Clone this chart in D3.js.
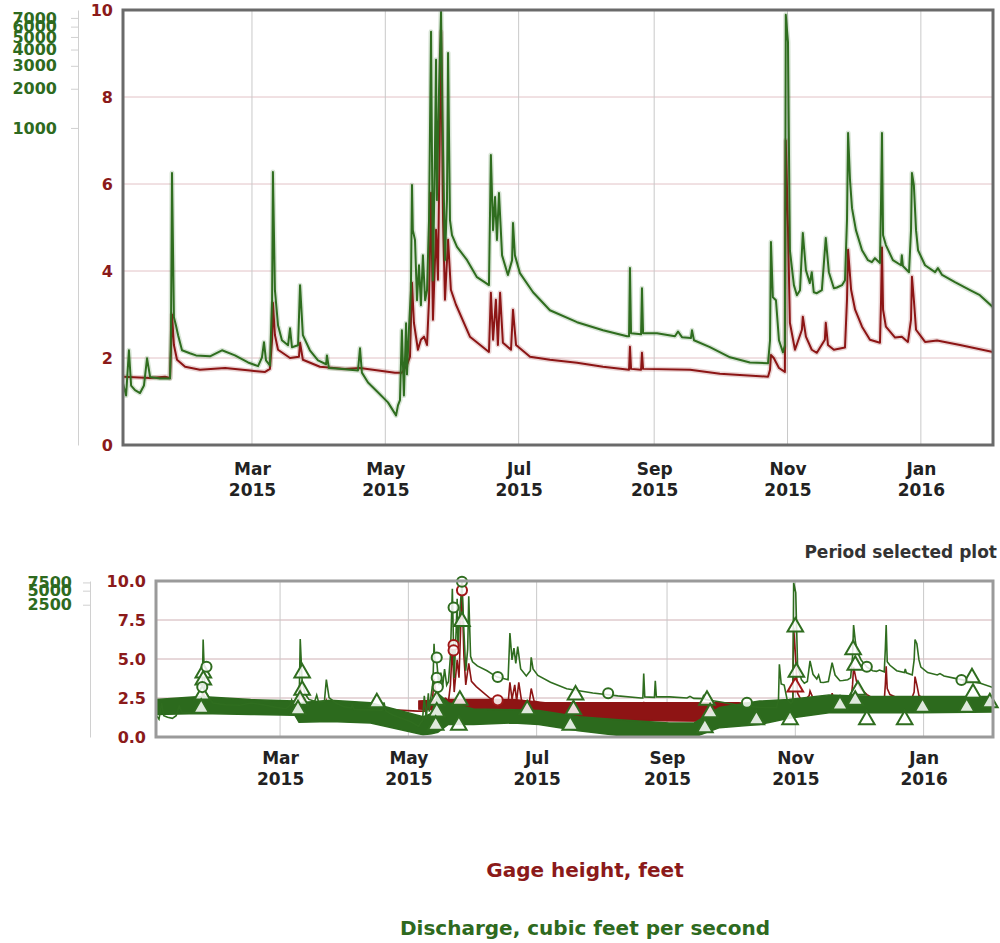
<!DOCTYPE html>
<html>
<head>
<meta charset="utf-8">
<script src="https://cdn.jsdelivr.net/npm/d3@7"></script>
<style>
  body { margin: 0; background: #fff; }
  svg text { font-family: "DejaVu Sans", Verdana, sans-serif; font-weight: bold; }
</style>
</head>
<body>
<svg id="chart" width="1000" height="943"></svg>
<script>
// ---- Data ------------------------------------------------------------
// Gage height, feet (instantaneous readings)
const gageHeight = [
  ["2015-01-01 00", 1.57], ["2015-01-13 10", 1.54], ["2015-01-20 05", 1.57], ["2015-01-22 12", 1.54],
  ["2015-01-22 23", 2.19], ["2015-01-23 10", 3.0], ["2015-01-24 07", 2.3], ["2015-01-25 17", 1.96],
  ["2015-01-29 10", 1.80], ["2015-02-05 05", 1.73], ["2015-02-16 17", 1.77], ["2015-02-28 02", 1.71],
  ["2015-03-07 00", 1.68], ["2015-03-09 05", 1.75], ["2015-03-10 05", 2.42], ["2015-03-10 14", 3.27],
  ["2015-03-11 12", 2.53], ["2015-03-12 22", 2.19], ["2015-03-18 10", 2.0], ["2015-03-22 12", 2.03],
  ["2015-03-23 00", 2.35], ["2015-03-24 07", 1.96], ["2015-04-01 02", 1.80], ["2015-04-12 14", 1.75],
  ["2015-04-19 10", 1.77], ["2015-05-05 10", 1.66], ["2015-05-08 14", 1.66], ["2015-05-10 22", 1.84],
  ["2015-05-12 07", 2.03], ["2015-05-13 05", 3.73], ["2015-05-14 02", 2.81], ["2015-05-15 22", 2.19],
  ["2015-05-17 07", 2.42], ["2015-05-18 17", 2.49], ["2015-05-20 02", 2.30], ["2015-05-21 00", 3.34],
  ["2015-05-21 22", 5.8], ["2015-05-22 19", 2.88], ["2015-05-24 05", 4.95], ["2015-05-25 02", 3.8],
  ["2015-05-26 12", 9.5], ["2015-05-27 10", 5.18], ["2015-05-28 07", 3.34], ["2015-05-29 17", 4.72],
  ["2015-05-31 00", 3.57], ["2015-06-02 07", 3.23], ["2015-06-08 17", 2.49], ["2015-06-17 10", 2.14],
  ["2015-06-18 07", 3.5], ["2015-06-19 07", 2.42], ["2015-06-20 14", 3.34], ["2015-06-21 12", 2.3],
  ["2015-06-22 12", 3.5], ["2015-06-23 19", 2.35], ["2015-06-27 12", 2.19], ["2015-06-28 10", 3.11],
  ["2015-06-29 19", 2.3], ["2015-07-06 05", 2.03], ["2015-07-15 07", 1.96], ["2015-07-27 17", 1.89],
  ["2015-08-08 14", 1.80], ["2015-08-20 12", 1.73], ["2015-08-20 22", 2.26], ["2015-08-21 10", 1.75],
  ["2015-08-26 00", 1.73], ["2015-08-26 10", 2.12], ["2015-08-26 22", 1.75], ["2015-09-17 10", 1.73],
  ["2015-10-01 02", 1.64], ["2015-10-23 02", 1.57], ["2015-10-24 00", 1.73], ["2015-10-24 10", 2.07],
  ["2015-10-25 17", 2.0], ["2015-10-28 02", 1.77], ["2015-10-30 19", 1.68], ["2015-10-31 05", 7.0],
  ["2015-11-01 05", 5.0], ["2015-11-02 02", 2.81], ["2015-11-04 10", 2.19], ["2015-11-07 14", 2.65],
  ["2015-11-08 00", 2.95], ["2015-11-09 10", 2.49], ["2015-11-12 02", 2.19], ["2015-11-14 10", 2.12],
  ["2015-11-18 02", 2.42], ["2015-11-18 12", 2.81], ["2015-11-19 12", 2.30], ["2015-11-22 05", 2.19],
  ["2015-11-27 07", 2.24], ["2015-11-28 05", 3.34], ["2015-11-28 17", 4.49], ["2015-11-30 02", 3.57],
  ["2015-12-01 22", 3.11], ["2015-12-05 02", 2.72], ["2015-12-08 17", 2.42], ["2015-12-13 07", 2.35],
  ["2015-12-13 19", 3.34], ["2015-12-14 05", 4.54], ["2015-12-14 17", 3.11], ["2015-12-16 00", 2.72],
  ["2015-12-20 05", 2.47], ["2015-12-23 07", 2.49], ["2015-12-26 02", 2.37], ["2015-12-27 12", 2.88],
  ["2015-12-27 22", 3.87], ["2015-12-28 19", 3.34], ["2015-12-29 19", 2.65], ["2016-01-02 22", 2.37],
  ["2016-01-08 10", 2.40], ["2016-01-18 22", 2.30], ["2016-02-03 00", 2.14]
];

// Discharge, cubic feet per second (instantaneous readings)
const discharge = [
  ["2015-01-01 00", 10.9], ["2015-01-02 10", 8.8], ["2015-01-03 17", 19.6], ["2015-01-04 17", 10.5],
  ["2015-01-06 12", 9.7], ["2015-01-08 19", 9.2], ["2015-01-10 14", 10.5], ["2015-01-12 00", 17.0],
  ["2015-01-13 10", 12.2], ["2015-01-17 22", 11.9], ["2015-01-22 12", 11.9], ["2015-01-22 23", 27.9],
  ["2015-01-23 10", 451], ["2015-01-24 07", 35.2], ["2015-01-25 05", 30.5], ["2015-01-26 05", 25.6],
  ["2015-01-28 00", 19.6], ["2015-01-31 14", 18.6], ["2015-02-03 10", 17.9], ["2015-02-09 19", 17.6],
  ["2015-02-15 07", 19.6], ["2015-02-21 05", 17.9], ["2015-02-27 05", 15.8], ["2015-03-03 19", 14.8],
  ["2015-03-05 14", 17.3], ["2015-03-06 12", 22.6], ["2015-03-07 10", 16.4], ["2015-03-09 05", 15.0],
  ["2015-03-10 05", 47.5], ["2015-03-10 14", 459], ["2015-03-11 12", 56.7], ["2015-03-12 22", 30.5],
  ["2015-03-14 17", 23.4], ["2015-03-17 12", 21.4], ["2015-03-18 10", 28.9], ["2015-03-19 07", 20.7],
  ["2015-03-22 02", 21.4], ["2015-03-23 00", 62], ["2015-03-24 07", 25.6], ["2015-03-27 12", 19.6],
  ["2015-03-31 05", 16.4], ["2015-04-03 22", 15.3], ["2015-04-04 07", 17.9], ["2015-04-05 05", 14.3],
  ["2015-04-12 14", 14.0], ["2015-04-18 12", 13.7], ["2015-04-19 10", 20.3], ["2015-04-20 07", 13.2],
  ["2015-04-23 02", 11.1], ["2015-04-27 17", 9.3], ["2015-05-02 05", 7.8], ["2015-05-05 22", 6.2],
  ["2015-05-06 19", 7.4], ["2015-05-07 17", 8.1], ["2015-05-08 14", 27.9], ["2015-05-09 12", 8.8],
  ["2015-05-10 12", 31.6], ["2015-05-10 22", 12.8], ["2015-05-11 19", 27.9], ["2015-05-12 17", 56.7],
  ["2015-05-13 05", 364], ["2015-05-13 14", 164], ["2015-05-14 14", 138], ["2015-05-15 12", 47.5],
  ["2015-05-16 10", 88.2], ["2015-05-17 07", 43.5], ["2015-05-18 05", 105], ["2015-05-19 05", 47.5],
  ["2015-05-20 02", 56.7], ["2015-05-21 00", 196], ["2015-05-21 22", 5480], ["2015-05-22 19", 67.7],
  ["2015-05-23 17", 677], ["2015-05-24 05", 3340], ["2015-05-24 14", 279], ["2015-05-25 14", 1960],
  ["2015-05-26 12", 7800], ["2015-05-27 10", 677], ["2015-05-28 07", 96.5], ["2015-05-29 05", 279],
  ["2015-05-29 17", 3770], ["2015-05-30 14", 196], ["2015-05-31 12", 150], ["2015-06-02 19", 122],
  ["2015-06-07 10", 96.5], ["2015-06-11 22", 71.4], ["2015-06-16 02", 64.3], ["2015-06-17 10", 62],
  ["2015-06-18 07", 620], ["2015-06-19 07", 164], ["2015-06-20 05", 295], ["2015-06-21 02", 138],
  ["2015-06-22 00", 316], ["2015-06-23 10", 105], ["2015-06-26 02", 74.3], ["2015-06-28 00", 96.5],
  ["2015-06-28 10", 186], ["2015-06-29 07", 105], ["2015-07-01 14", 76.7], ["2015-07-07 14", 54.7],
  ["2015-07-15 07", 39.8], ["2015-07-27 17", 32.2], ["2015-08-08 14", 27.9], ["2015-08-19 14", 25.1],
  ["2015-08-20 12", 25.1], ["2015-08-20 22", 83.8], ["2015-08-21 10", 26.5], ["2015-08-26 00", 26.0],
  ["2015-08-26 10", 58.7], ["2015-08-26 22", 26.5], ["2015-09-02 07", 26.5], ["2015-09-10 12", 25.1],
  ["2015-09-11 22", 27.3], ["2015-09-13 17", 24.7], ["2015-09-17 19", 24.3], ["2015-09-18 07", 27.9],
  ["2015-09-19 05", 23.4], ["2015-09-26 12", 20.7], ["2015-10-05 17", 17.3], ["2015-10-14 19", 15.8],
  ["2015-10-23 02", 15.6], ["2015-10-24 00", 23.4], ["2015-10-24 10", 133], ["2015-10-25 07", 50.1],
  ["2015-10-26 17", 47.5], ["2015-10-28 02", 23.4], ["2015-10-29 22", 18.9], ["2015-10-30 19", 21.4],
  ["2015-10-31 05", 7390], ["2015-11-01 05", 4560], ["2015-11-02 02", 115], ["2015-11-03 22", 62],
  ["2015-11-05 07", 51.9], ["2015-11-06 17", 56.7], ["2015-11-08 00", 156], ["2015-11-09 10", 80.9],
  ["2015-11-11 05", 64.3], ["2015-11-12 02", 78], ["2015-11-13 00", 54.7], ["2015-11-14 10", 53.8],
  ["2015-11-16 17", 56.7], ["2015-11-18 12", 143], ["2015-11-19 22", 78], ["2015-11-22 05", 58.7],
  ["2015-11-23 14", 59.5], ["2015-11-25 22", 62], ["2015-11-27 07", 67.7], ["2015-11-28 05", 196],
  ["2015-11-28 17", 915], ["2015-11-29 14", 398], ["2015-11-30 12", 242], ["2015-12-02 07", 164],
  ["2015-12-05 02", 115], ["2015-12-07 19", 96.5], ["2015-12-09 14", 93.2], ["2015-12-11 00", 99.9],
  ["2015-12-13 07", 91.6], ["2015-12-13 19", 279], ["2015-12-14 05", 915], ["2015-12-14 17", 150],
  ["2015-12-16 00", 126], ["2015-12-19 05", 96.5], ["2015-12-22 22", 88.2], ["2015-12-23 07", 105],
  ["2015-12-23 19", 86.9], ["2015-12-26 14", 78], ["2015-12-27 12", 164], ["2015-12-27 22", 451],
  ["2015-12-28 19", 364], ["2015-12-29 19", 164], ["2015-12-30 17", 115], ["2016-01-02 22", 88.2],
  ["2016-01-07 12", 78], ["2016-01-08 19", 83.8], ["2016-01-10 17", 74.3], ["2016-01-16 14", 65.3],
  ["2016-01-23 12", 56.7], ["2016-01-28 00", 51.9], ["2016-02-03 00", 42]
];

// Overview plot: daily envelopes and sample markers (on the feet axis)
const dischargeEnvelope = [
  ["2015-01-01 00", 1.45, 2.4], ["2015-01-22 00", 1.5, 2.6], ["2015-02-15 00", 1.45, 2.4],
  ["2015-03-08 00", 1.4, 2.3], ["2015-03-10 00", 0.95, 2.2], ["2015-03-25 00", 1.0, 2.35],
  ["2015-04-13 00", 0.9, 2.2], ["2015-05-08 00", 0.15, 1.3], ["2015-05-12 00", 0.2, 1.5],
  ["2015-05-15 00", 0.3, 2.8], ["2015-05-20 00", 0.8, 2.2], ["2015-06-01 00", 0.8, 1.8],
  ["2015-06-20 00", 0.9, 1.75], ["2015-07-02 00", 0.8, 1.7], ["2015-07-21 00", 0.4, 1.3],
  ["2015-08-09 00", 0.1, 1.1], ["2015-09-02 00", 0.0, 0.9], ["2015-09-14 00", 0.0, 0.9],
  ["2015-09-26 00", 0.6, 1.9], ["2015-10-15 00", 0.8, 2.3], ["2015-10-29 00", 1.2, 2.4],
  ["2015-11-17 00", 1.55, 2.7], ["2015-12-06 00", 1.55, 2.6], ["2015-12-30 00", 1.55, 2.6],
  ["2016-02-03 00", 1.6, 2.6]
];
const gageEnvelope = [
  ["2015-05-06 00", 1.8, 2.3], ["2015-05-20 00", 1.7, 2.4], ["2015-06-20 00", 1.7, 2.4],
  ["2015-07-05 00", 1.1, 2.2], ["2015-10-05 00", 1.0, 2.2], ["2015-10-15 00", 1.5, 2.1],
  ["2015-10-20 00", null, null], ["2015-11-21 00", 1.6, 2.6], ["2015-12-04 00", 1.6, 2.6]
];
const dischargeCircles = [
  ["2015-01-25 00", 4.5], ["2015-01-23 00", 3.2], ["2015-05-26 12", 9.95], ["2015-05-22 12", 8.3],
  ["2015-05-14 12", 5.1], ["2015-05-14 12", 3.8], ["2015-05-15 00", 3.2], ["2015-06-12 12", 3.85],
  ["2015-08-04 00", 2.8], ["2015-10-09 00", 2.2], ["2015-12-05 00", 4.5], ["2016-01-19 00", 3.65]
];
const dischargeTriangles = [
  ["2015-01-23 12", 4.1], ["2015-01-23 12", 3.65], ["2015-01-23 00", 2.7], ["2015-01-22 12", 1.85],
  ["2015-03-11 12", 4.1], ["2015-03-11 12", 3.0], ["2015-03-10 12", 2.35], ["2015-03-09 12", 1.75],
  ["2015-04-16 00", 2.2], ["2015-05-26 12", 7.4], ["2015-05-14 12", 2.35], ["2015-05-14 12", 1.6],
  ["2015-05-14 00", 0.75], ["2015-05-25 12", 2.35], ["2015-05-25 00", 0.75], ["2015-06-26 12", 1.75],
  ["2015-07-19 12", 2.7], ["2015-07-18 12", 1.75], ["2015-07-17 00", 0.75], ["2015-09-20 00", 2.35],
  ["2015-09-21 12", 1.55], ["2015-09-19 00", 0.6], ["2015-10-13 12", 1.1], ["2015-11-01 00", 7.05],
  ["2015-11-01 12", 4.15], ["2015-10-29 12", 1.1], ["2015-11-22 06", 2.05], ["2015-11-28 12", 5.6],
  ["2015-11-29 12", 4.6], ["2015-11-30 18", 3.0], ["2015-11-29 12", 2.35], ["2015-12-05 00", 1.1],
  ["2015-12-23 00", 1.1], ["2015-12-31 12", 1.9], ["2016-01-21 12", 1.9], ["2016-01-24 00", 3.8],
  ["2016-01-24 12", 2.8], ["2016-02-01 12", 2.2]
];
const gageCircles = [
  ["2015-05-26 12", 9.4], ["2015-05-22 12", 5.9], ["2015-05-22 12", 5.55], ["2015-06-12 12", 2.35]
];
const gageTriangles = [["2015-11-01 00", 3.2]];

// Axis ticks
const monthTicks = ["2015-03-01", "2015-05-01", "2015-07-01", "2015-09-01", "2015-11-01", "2016-01-01"];
const gageTicks = [0, 2, 4, 6, 8, 10];
const flowTicks = [1000, 2000, 3000, 4000, 5000, 6000, 7000];
const overviewGageTicks = [0, 2.5, 5, 7.5, 10];
const overviewFlowTicks = [2500, 5000, 7500];

// ---- Setup -----------------------------------------------------------
const RED = "#8c1515", GREEN = "#2f6d1f";
const LABEL_RED = "#8b1a1a", LABEL_GREEN = "#2e6a1e";
const parseTime = d3.timeParse("%Y-%m-%d %H");
const parseDay = d3.timeParse("%Y-%m-%d");
const timeDomain = [parseDay("2015-01-01"), parseDay("2016-02-03")];
const flowDomain = [3.67, 8050];
const gageDomain = [0, 10];
const monthDates = monthTicks.map(parseDay);

const svg = d3.select("#chart");

function drawPanel(p) {
  const x = d3.scaleTime().domain(timeDomain).range([p.left, p.right]);
  const yG = d3.scaleLinear().domain(gageDomain).range([p.bottom, p.top]);
  const yQ = d3.scaleLog().domain(flowDomain).range([p.bottom, p.top]);

  const clipId = "clip-" + p.name;
  svg.append("clipPath").attr("id", clipId)
    .append("rect").attr("x", p.left).attr("y", p.top - 2)
    .attr("width", p.right - p.left).attr("height", p.bottom - p.top + 2);

  // grid
  const grid = svg.append("g");
  grid.selectAll("line.h").data(p.gageTicks.filter(v => v > 0 && v < 10)).join("line")
    .attr("x1", p.left).attr("x2", p.right)
    .attr("y1", d => yG(d)).attr("y2", d => yG(d))
    .attr("stroke", p.hGrid).attr("stroke-width", 1);
  grid.selectAll("line.v").data(monthDates).join("line")
    .attr("x1", d => x(d)).attr("x2", d => x(d))
    .attr("y1", p.top).attr("y2", p.bottom)
    .attr("stroke", "#c9c9c9").attr("stroke-width", 1);

  return { x, yG, yQ, clipId };
}

function styleAxis(g, color, size) {
  g.attr("font-family", null).attr("font-size", null);
  g.selectAll("text").attr("fill", color).style("font-size", size + "px");
}

function monthAxis(x, y0, dy1, dy2) {
  const g = svg.append("g").attr("transform", `translate(0,${y0})`)
    .call(d3.axisBottom(x).tickValues(monthDates).tickSize(0));
  g.select(".domain").remove();
  styleAxis(g, "#222", 17);
  g.selectAll(".tick text").each(function (d) {
    const t = d3.select(this).text(null).attr("y", null).attr("dy", null);
    t.append("tspan").attr("x", 0).attr("y", dy1).text(d3.timeFormat("%b")(d));
    t.append("tspan").attr("x", 0).attr("y", dy2).text(d3.timeFormat("%Y")(d));
  });
}

function seriesPath(g, data, x, y, color, width, clipId) {
  const line = d3.line().x(d => x(parseTime(d[0]))).y(d => y(d[1]));
  g.append("path").datum(data).attr("d", line)
    .attr("fill", "none").attr("stroke", color).attr("stroke-opacity", 0.18)
    .attr("stroke-width", width + 3).attr("stroke-linejoin", "round")
    .attr("clip-path", `url(#${clipId})`);
  g.append("path").datum(data).attr("d", line)
    .attr("fill", "none").attr("stroke", color)
    .attr("stroke-width", width).attr("stroke-linejoin", "round")
    .attr("clip-path", `url(#${clipId})`);
}

// ---- Main plot -------------------------------------------------------
const main = { name: "main", left: 123, right: 993, top: 10, bottom: 445,
  gageTicks: gageTicks, hGrid: "#e2c2c6" };
const M = drawPanel(main);

const mainLines = svg.append("g");
seriesPath(mainLines, gageHeight, M.x, M.yG, RED, 2, M.clipId);
seriesPath(mainLines, discharge, M.x, M.yQ, GREEN, 2, M.clipId);

svg.append("rect").attr("x", main.left).attr("y", main.top)
  .attr("width", main.right - main.left).attr("height", main.bottom - main.top)
  .attr("fill", "none").attr("stroke", "#6a6a6a").attr("stroke-width", 3);

// gage axis (left, inner)
const gAxis = svg.append("g").attr("transform", `translate(${main.left},0)`)
  .call(d3.axisLeft(M.yG).tickValues(gageTicks).tickSize(0).tickPadding(10).tickFormat(d3.format("d")));
gAxis.select(".domain").remove();
styleAxis(gAxis, LABEL_RED, 16);

// discharge axis (left, outer, log)
const qAxis = svg.append("g").attr("transform", "translate(78,0)")
  .call(d3.axisLeft(M.yQ).tickValues(flowTicks).tickSize(7).tickSizeOuter(0).tickPadding(14)
    .tickFormat(d3.format("d")));
qAxis.select(".domain").attr("stroke", "#d0d0d0");
qAxis.selectAll(".tick line").attr("stroke", "#d0d0d0");
styleAxis(qAxis, LABEL_GREEN, 16);

monthAxis(M.x, main.bottom, 30, 51);

// ---- Overview plot ---------------------------------------------------
const ov = { name: "overview", left: 156, right: 993, top: 581, bottom: 737,
  gageTicks: overviewGageTicks, hGrid: "#cfb0b4" };
const O = drawPanel(ov);

svg.append("text").attr("x", 997).attr("y", 558).attr("text-anchor", "end")
  .attr("fill", "#333").style("font-size", "17px").text("Period selected plot");

const ovg = svg.append("g").attr("clip-path", `url(#${O.clipId})`);
const tx = d => O.x(parseTime(d[0]));

ovg.append("path").datum(gageHeight)
  .attr("d", d3.line().x(tx).y(d => O.yG(d[1])))
  .attr("fill", "none").attr("stroke", RED).attr("stroke-width", 1.6);

const band = d3.area().defined(d => d[1] !== null)
  .x(tx).y0(d => O.yG(d[1])).y1(d => O.yG(d[2]));
ovg.append("path").datum(gageEnvelope).attr("d", band)
  .attr("fill", "#8e1414").attr("stroke", "#8e1414").attr("stroke-width", 1.5);
ovg.append("path").datum(dischargeEnvelope).attr("d", band)
  .attr("fill", "#2c6a1d").attr("stroke", "#2c6a1d").attr("stroke-width", 1.5);

ovg.append("path").datum(discharge)
  .attr("d", d3.line().x(tx).y(d => O.yQ(d[1])))
  .attr("fill", "none").attr("stroke", GREEN).attr("stroke-width", 1.6);

const circle = d3.symbol().type(d3.symbolCircle).size(80);
const tri = d3.symbol().type(d3.symbolTriangle).size(105);
function markers(data, sym, color) {
  svg.append("g").selectAll("path").data(data).join("path")
    .attr("transform", d => `translate(${tx(d)},${O.yG(d[1])})`)
    .attr("d", sym).attr("fill", "#fff").attr("fill-opacity", 0.85)
    .attr("stroke", color).attr("stroke-width", 2);
}
markers(gageCircles, circle, "#a01818");
markers(gageTriangles, tri, "#a01818");
markers(dischargeTriangles, tri, GREEN);
markers(dischargeCircles, circle, GREEN);

svg.append("rect").attr("x", ov.left).attr("y", ov.top)
  .attr("width", ov.right - ov.left).attr("height", ov.bottom - ov.top)
  .attr("fill", "none").attr("stroke", "#9a9a9a").attr("stroke-width", 3);

const ogAxis = svg.append("g").attr("transform", `translate(${ov.left},0)`)
  .call(d3.axisLeft(O.yG).tickValues(overviewGageTicks).tickSize(0).tickPadding(10)
    .tickFormat(d3.format(".1f")));
ogAxis.select(".domain").remove();
styleAxis(ogAxis, LABEL_RED, 16);

const oqAxis = svg.append("g").attr("transform", "translate(90,0)")
  .call(d3.axisLeft(O.yQ).tickValues(overviewFlowTicks).tickSize(7).tickSizeOuter(0).tickPadding(11)
    .tickFormat(d3.format("d")));
oqAxis.select(".domain").attr("stroke", "#d0d0d0");
oqAxis.selectAll(".tick line").attr("stroke", "#d0d0d0");
styleAxis(oqAxis, LABEL_GREEN, 16);

monthAxis(O.x, ov.bottom, 27, 48);

// ---- Legend ----------------------------------------------------------
const legend = [
  { text: "Gage height, feet", color: LABEL_RED, y: 877 },
  { text: "Discharge, cubic feet per second", color: LABEL_GREEN, y: 935 }
];
svg.append("g").selectAll("text").data(legend).join("text")
  .attr("x", 585).attr("y", d => d.y).attr("text-anchor", "middle")
  .attr("fill", d => d.color).style("font-size", "20px").text(d => d.text);
</script>
</body>
</html>
